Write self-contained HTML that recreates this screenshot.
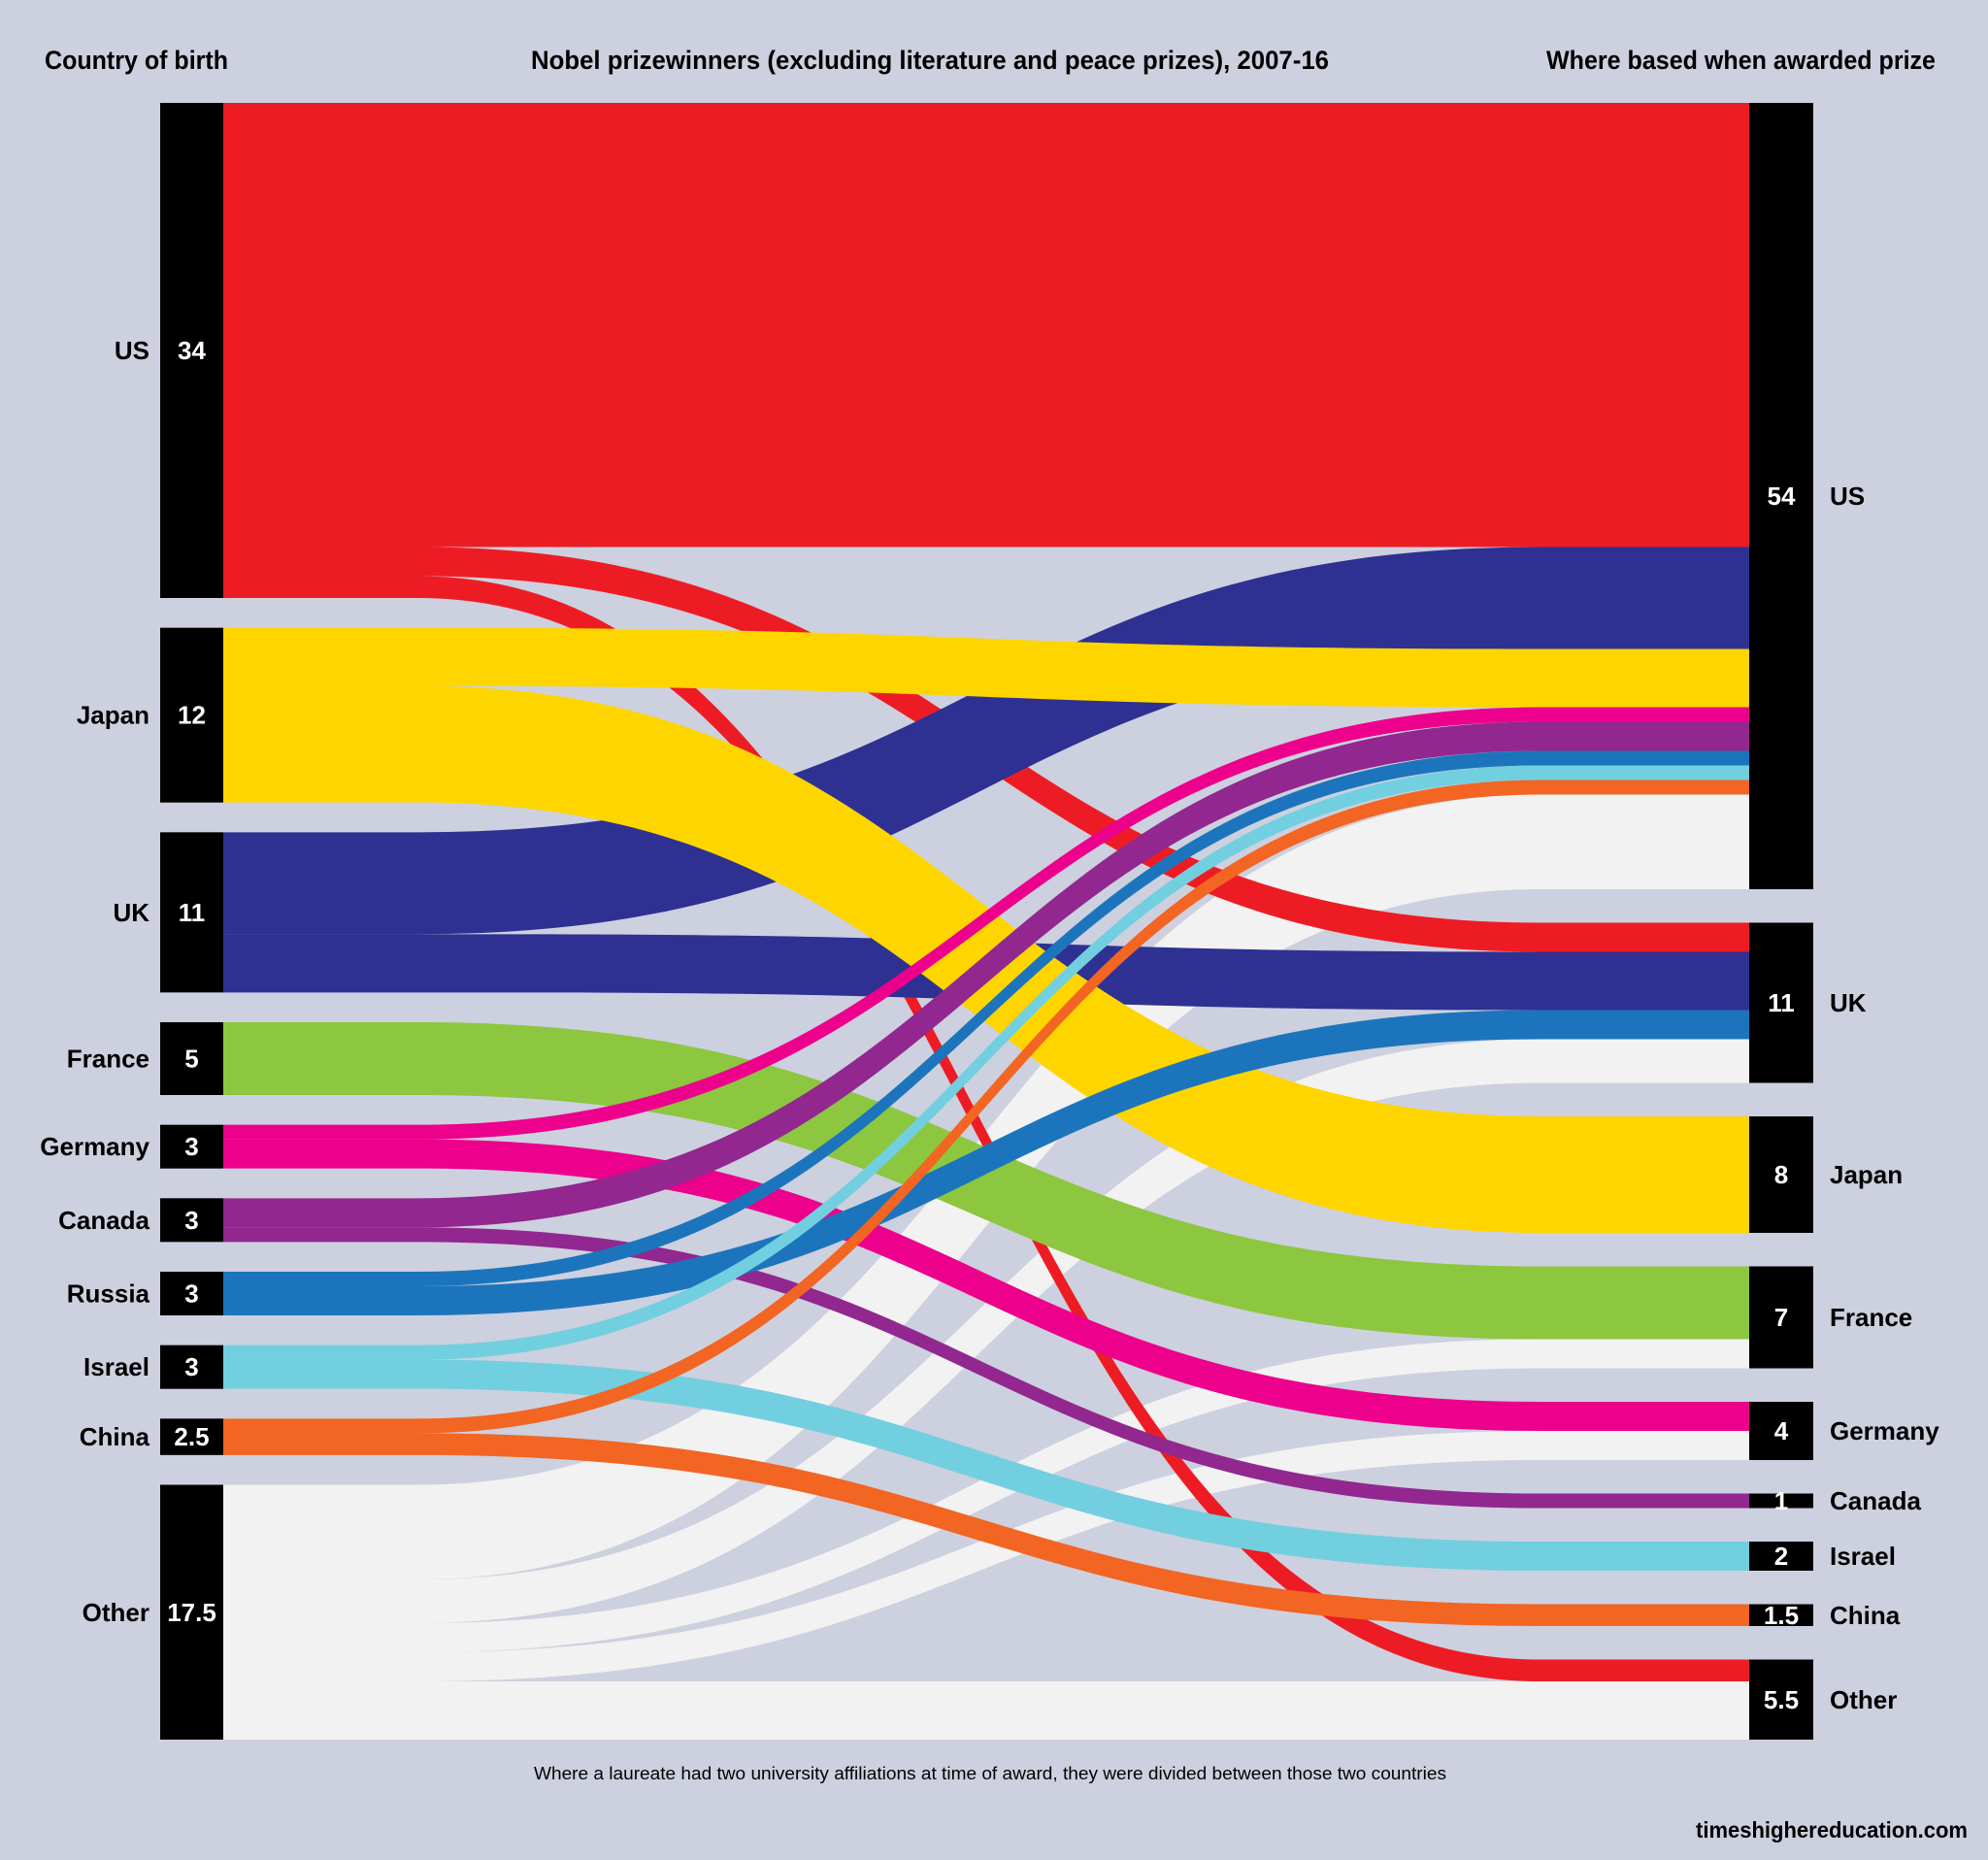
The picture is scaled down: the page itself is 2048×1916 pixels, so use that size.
<!DOCTYPE html>
<html><head><meta charset="utf-8">
<style>
html,body{margin:0;padding:0;background:#cdd0de;}
svg{display:block;}
text{font-family:"Liberation Sans Narrow","Liberation Sans",sans-serif;font-weight:bold;}
</style></head>
<body>
<svg id="chart" width="2048" height="1916" viewBox="0 0 2048 1916" xmlns="http://www.w3.org/2000/svg">
<rect x="0" y="0" width="2048" height="1916" fill="#cdd0de"/>
<text x="46" y="71" font-size="27" fill="#000" textLength="189" lengthAdjust="spacingAndGlyphs">Country of birth</text>
<text x="547" y="71" font-size="27" fill="#000" textLength="822" lengthAdjust="spacingAndGlyphs">Nobel prizewinners (excluding literature and peace prizes), 2007-16</text>
<text x="1593" y="71" font-size="27" fill="#000" textLength="401" lengthAdjust="spacingAndGlyphs">Where based when awarded prize</text>
<g id="links"></g>
<g id="nodes"></g>
<text x="550" y="1833" font-size="18" style="font-weight:normal" fill="#000" textLength="940" lengthAdjust="spacingAndGlyphs">Where a laureate had two university affiliations at time of award, they were divided between those two countries</text>
<text x="1747" y="1893" font-size="23" fill="#000" textLength="280" lengthAdjust="spacingAndGlyphs">timeshighereducation.com</text>
</svg>
<script>
const leftNodes = ["US","Japan","UK","France","Germany","Canada","Russia","Israel","China","Other"];
const leftValues = [34,12,11,5,3,3,3,3,2.5,17.5];
const leftLabels = ["34","12","11","5","3","3","3","3","2.5","17.5"];
const rightNodes = ["US","UK","Japan","France","Germany","Canada","Israel","China","Other"];
const rightValues = [54,11,8,7,4,1,2,1.5,5.5];
const rightLabels = ["54","11","8","7","4","1","2","1.5","5.5"];
// flows listed in target stacking order
const flowSource = ["US","UK","Japan","Germany","Canada","Russia","Israel","China","Other",
  "US","UK","Russia","Other", "Japan", "France","Other", "Germany","Other", "Canada", "Israel", "China", "US","Other"];
const flowTarget = ["US","US","US","US","US","US","US","US","US",
  "UK","UK","UK","UK", "Japan", "France","France", "Germany","Germany", "Canada", "Israel", "China", "Other","Other"];
const flowValue = [30.5,7,4,1,2,1,1,1,6.5,
  2,4,2,3, 8, 5,2, 2,2, 1, 2, 1.5, 1.5,4];

const colors = {US:"#ed1c24",Japan:"#ffd500",UK:"#2e3192",France:"#8dc63f",Germany:"#ec008c",
  Canada:"#92278f",Russia:"#1c75bc",Israel:"#72cfe0",China:"#f26522",Other:"#f2f2f2"};
const NS="http://www.w3.org/2000/svg";
const TOP=106, BOTTOM=1792, K=15;
const LX0=165, LX1=230, RX0=1802, RX1=1868;
function layout(vals){
  const total=vals.reduce((a,b)=>a+b,0);
  const gap=(BOTTOM-TOP-total*K)/(vals.length-1);
  let y=TOP; const out=[];
  vals.forEach(v=>{out.push([y,y+v*K]); y+=v*K+gap;});
  return out;
}
const lPos=layout(leftValues), rPos=layout(rightValues);
const idx=flowValue.map((_,i)=>i);
const srcY={}, tgtY={};
const lCur=lPos.map(p=>p[0]), rCur=rPos.map(p=>p[0]);
idx.forEach(i=>{const t=rightNodes.indexOf(flowTarget[i]); tgtY[i]=rCur[t]; rCur[t]+=flowValue[i]*K;});
idx.slice().sort((a,b)=>rightNodes.indexOf(flowTarget[a])-rightNodes.indexOf(flowTarget[b])||a-b).forEach(i=>{
  const s=leftNodes.indexOf(flowSource[i]); srcY[i]=lCur[s]; lCur[s]+=flowValue[i]*K;});
const links=document.getElementById('links');
const drawOrder=["Other","US","UK","Japan","France","Germany","Canada","Russia","Israel","China"];
drawOrder.forEach(src=>{
  idx.filter(i=>flowSource[i]===src).forEach(i=>{
    const h=flowValue[i]*K, y0=srcY[i], y1=tgtY[i];
    const lateStart=(src==="UK"&&flowTarget[i]==="UK")||(src==="Other"&&flowTarget[i]==="Other");
    const cx0=lateStart?529:431, cx1=1587, m=(cx0+cx1)/2;
    const d=`M${LX1},${y0}L${cx0},${y0}C${m},${y0} ${m},${y1} ${cx1},${y1}L${RX0},${y1}L${RX0},${y1+h}L${cx1},${y1+h}C${m},${y1+h} ${m},${y0+h} ${cx0},${y0+h}L${LX1},${y0+h}Z`;
    const p=document.createElementNS(NS,'path');
    p.setAttribute('d',d); p.setAttribute('fill',colors[src]);
    
    
    links.appendChild(p);
  });
});
const nodes=document.getElementById('nodes');
function mk(tag,attrs,text){const e=document.createElementNS(NS,tag);for(const k in attrs)e.setAttribute(k,attrs[k]);if(text!==undefined)e.textContent=text;nodes.appendChild(e);return e;}
leftNodes.forEach((n,i)=>{
  const [a,b]=lPos[i], c=(a+b)/2;
  const r=mk('rect',{x:LX0,y:a,width:LX1-LX0,height:b-a,fill:'#000'});
  
  
  const v=mk('text',{x:(LX0+LX1)/2,y:c+9,'font-size':26,fill:'#fff','text-anchor':'middle'},leftLabels[i]);
  
  
  const l=mk('text',{x:154,y:c+9,'font-size':26,fill:'#000','text-anchor':'end'},n);
  
  
});
rightNodes.forEach((n,i)=>{
  const [a,b]=rPos[i], c=(a+b)/2;
  const r=mk('rect',{x:RX0,y:a,width:RX1-RX0,height:b-a,fill:'#000'});
  
  
  const v=mk('text',{x:(RX0+RX1)/2,y:c+9,'font-size':26,fill:'#fff','text-anchor':'middle'},rightLabels[i]);
  
  
  const l=mk('text',{x:1885,y:c+9,'font-size':26,fill:'#000'},n);
  
  
});
</script>
</body></html>
